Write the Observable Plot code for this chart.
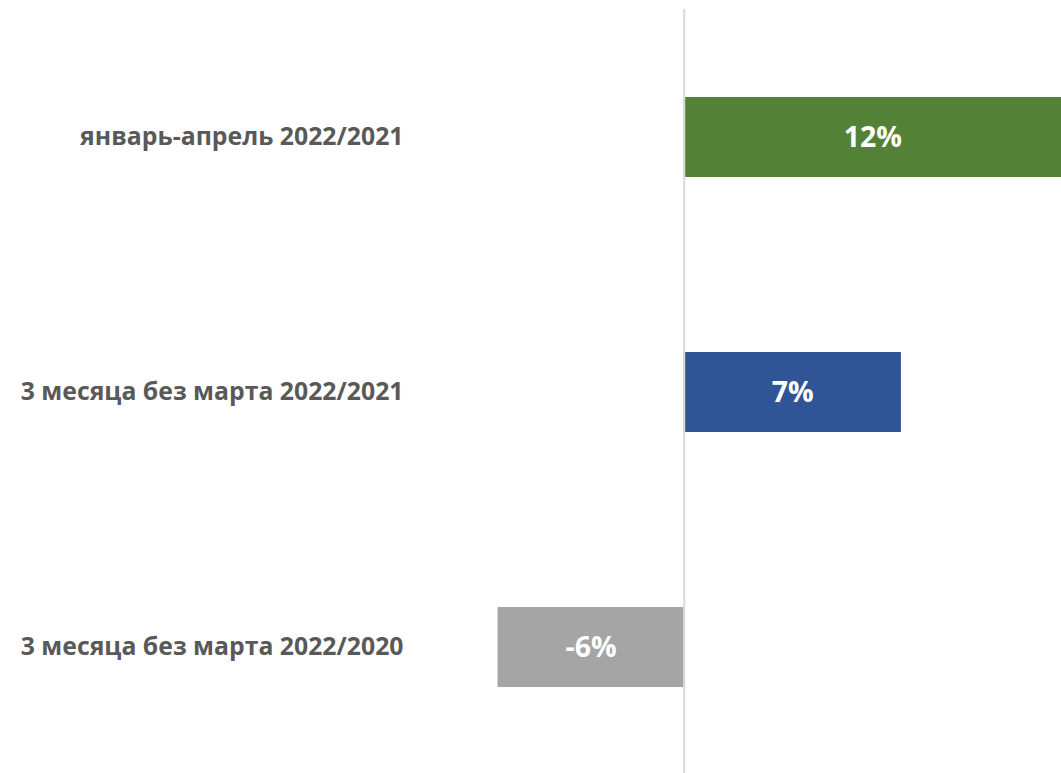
<!DOCTYPE html>
<html>
<head>
<meta charset="utf-8">
<script src="https://cdn.jsdelivr.net/npm/d3@7"></script>
<script src="https://cdn.jsdelivr.net/npm/@observablehq/plot@0.6"></script>
<style>
  html, body { margin: 0; padding: 0; background: #fff; }
  #chart svg { display: block; }
</style>
</head>
<body>
<div id="chart"></div>
<script>
const categories = [
  "январь-апрель 2022/2021",
  "3 месяца без марта 2022/2021",
  "3 месяца без марта 2022/2020"
];
const values = [0.1216, 0.07, -0.06];
const labels = ["12%", "7%", "-6%"];
const colors = ["#538135", "#2F5597", "#A5A5A5"];

const data = categories.map((c, i) => ({category: c, value: values[i], label: labels[i], color: colors[i]}));

const chart = Plot.plot({
  width: 1061,
  height: 773,
  marginLeft: 420,
  marginRight: 0,
  marginTop: 9,
  marginBottom: -3,
  style: {fontFamily: "'Open Sans', sans-serif", background: "#fff", overflow: "hidden"},
  x: {domain: [-0.085, 0.1216], axis: null},
  y: {domain: categories, paddingInner: 0.686, paddingOuter: 0.343, label: null},
  marks: [
    Plot.barX(data, {y: "category", x: "value", fill: "color"}),
    Plot.ruleX([0], {stroke: "#d9d9d9", strokeWidth: 2}),
    Plot.text(data, {y: "category", x: d => d.value / 2, text: "label", fill: "white", fontSize: 28.5, fontWeight: "bold"}),
    Plot.axisY({tickSize: 0, tickPadding: 17, fontSize: 24.8, fontWeight: "bold", fill: "#595959", label: null})
  ]
});
document.getElementById("chart").appendChild(chart);
</script>
</body>
</html>
